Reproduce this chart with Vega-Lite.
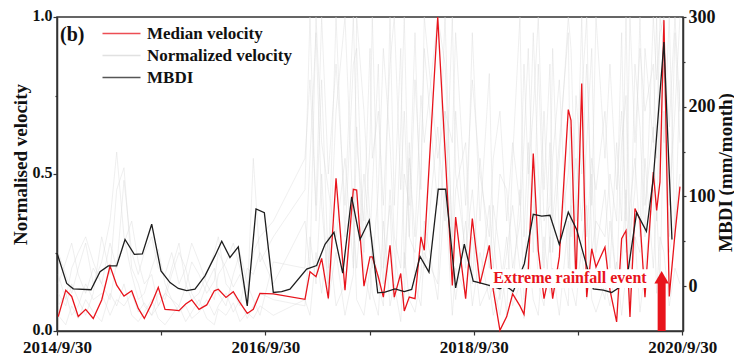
{
"$schema": "https://vega.github.io/schema/vega-lite/v6.json",
"width": 626, "height": 314,
"autosize": {"type": "none"},
"padding": {"left": 57, "top": 17, "right": 51, "bottom": 25},
"background": "white",
"config": {
  "view": {"stroke": "#333", "strokeWidth": 1.5},
  "axis": {"domainColor": "#333", "domainWidth": 1.5, "tickColor": "#333", "tickWidth": 1.2, "grid": false,
    "labelFont": "Liberation Serif", "labelFontWeight": "bold", "labelColor": "#111",
    "titleFont": "Liberation Serif", "titleFontWeight": "bold", "titleColor": "#111"}
},
"datasets": {
"vel": [
{"t":2014.760,"m":0.046,"g1":0.25,"g2":0.12,"g3":0.05,"g4":0.15,"g5":0.08,"g6":0.18},
{"t":2014.832,"m":0.13,"g1":0.18,"g2":0.08,"g3":0.02,"g4":0.22,"g5":0.12,"g6":0.10},
{"t":2014.889,"m":0.11,"g1":0.12,"g2":0.15,"g3":0.08,"g4":0.28,"g5":0.05,"g6":0.20},
{"t":2014.952,"m":0.046,"g1":0.20,"g2":0.10,"g3":0.04,"g4":0.18,"g5":0.08,"g6":0.25},
{"t":2015.023,"m":0.069,"g1":0.28,"g2":0.05,"g3":0.10,"g4":0.12,"g5":0.15,"g6":0.30},
{"t":2015.096,"m":0.04,"g1":0.15,"g2":0.12,"g3":0.06,"g4":0.20,"g5":0.10,"g6":0.22},
{"t":2015.177,"m":0.099,"g1":0.22,"g2":0.30,"g3":0.03,"g4":0.15,"g5":0.12,"g6":0.15},
{"t":2015.257,"m":0.207,"g1":0.35,"g2":0.18,"g3":0.12,"g4":0.10,"g5":0.05,"g6":0.28},
{"t":2015.321,"m":0.146,"g1":0.57,"g2":0.45,"g3":0.08,"g4":0.22,"g5":0.10,"g6":0.20},
{"t":2015.391,"m":0.111,"g1":0.30,"g2":0.52,"g3":0.15,"g4":0.28,"g5":0.08,"g6":0.48},
{"t":2015.465,"m":0.128,"g1":0.18,"g2":0.20,"g3":0.05,"g4":0.35,"g5":0.12,"g6":0.25},
{"t":2015.528,"m":0.072,"g1":0.10,"g2":0.15,"g3":0.03,"g4":0.22,"g5":0.06,"g6":0.18},
{"t":2015.586,"m":0.04,"g1":0.12,"g2":0.08,"g3":0.06,"g4":0.15,"g5":0.09,"g6":0.25},
{"t":2015.657,"m":0.088,"g1":0.20,"g2":0.05,"g3":0.10,"g4":0.18,"g5":0.05,"g6":0.30},
{"t":2015.720,"m":0.139,"g1":0.26,"g2":0.12,"g3":0.04,"g4":0.08,"g5":0.08,"g6":0.20},
{"t":2015.785,"m":0.069,"g1":0.15,"g2":0.10,"g3":0.02,"g4":0.12,"g5":0.12,"g6":0.18},
{"t":2015.849,"m":0.067,"g1":0.10,"g2":0.18,"g3":0.05,"g4":0.20,"g5":0.10,"g6":0.25},
{"t":2015.919,"m":0.065,"g1":0.08,"g2":0.25,"g3":0.08,"g4":0.28,"g5":0.06,"g6":0.15},
{"t":2015.983,"m":0.086,"g1":0.14,"g2":0.20,"g3":0.03,"g4":0.15,"g5":0.08,"g6":0.20},
{"t":2016.041,"m":0.099,"g1":0.22,"g2":0.12,"g3":0.06,"g4":0.10,"g5":0.04,"g6":0.28},
{"t":2016.111,"m":0.069,"g1":0.18,"g2":0.08,"g3":0.10,"g4":0.12,"g5":0.06,"g6":0.22},
{"t":2016.185,"m":0.083,"g1":0.12,"g2":0.15,"g3":0.04,"g4":0.18,"g5":0.10,"g6":0.15},
{"t":2016.258,"m":0.128,"g1":0.16,"g2":0.20,"g3":0.02,"g4":0.25,"g5":0.05,"g6":0.10},
{"t":2016.296,"m":0.133,"g1":0.25,"g2":0.12,"g3":0.07,"g4":0.30,"g5":0.08,"g6":0.18},
{"t":2016.370,"m":0.107,"g1":0.20,"g2":0.08,"g3":0.05,"g4":0.15,"g5":0.12,"g6":0.22},
{"t":2016.440,"m":0.125,"g1":0.14,"g2":0.18,"g3":0.09,"g4":0.12,"g5":0.06,"g6":0.28},
{"t":2016.504,"m":0.09,"g1":0.18,"g2":0.25,"g3":0.03,"g4":0.08,"g5":0.10,"g6":0.20},
{"t":2016.574,"m":0.056,"g1":0.10,"g2":0.15,"g3":0.06,"g4":0.20,"g5":0.04,"g6":0.12},
{"t":2016.632,"m":0.069,"g1":0.55,"g2":0.10,"g3":0.04,"g4":0.18,"g5":0.08,"g6":0.25},
{"t":2016.696,"m":0.12,"g1":0.22,"g2":0.05,"g3":0.08,"g4":0.25,"g5":0.12,"g6":0.30},
{"t":2016.824,"m":0.118,"g1":0.30,"g2":0.22,"g3":0.05,"g4":0.15,"g5":0.10,"g6":0.35},
{"t":2017.128,"m":0.101,"g1":0.45,"g2":0.20,"g3":0.10,"g4":0.35,"g5":0.08,"g6":0.55},
{"t":2017.176,"m":0.189,"g1":1.0,"g2":0.55,"g3":0.05,"g4":0.20,"g5":0.30,"g6":0.80},
{"t":2017.234,"m":0.173,"g1":0.35,"g2":0.95,"g3":0.25,"g4":1.0,"g5":0.15,"g6":0.40},
{"t":2017.288,"m":0.231,"g1":0.80,"g2":0.40,"g3":0.12,"g4":0.60,"g5":0.50,"g6":1.0},
{"t":2017.352,"m":0.104,"g1":0.20,"g2":0.15,"g3":0.30,"g4":0.45,"g5":0.10,"g6":0.50},
{"t":2017.426,"m":0.486,"g1":1.0,"g2":0.70,"g3":0.08,"g4":0.30,"g5":0.25,"g6":0.85},
{"t":2017.512,"m":0.13,"g1":0.30,"g2":1.0,"g3":0.15,"g4":0.55,"g5":0.05,"g6":0.40},
{"t":2017.592,"m":0.451,"g1":0.85,"g2":0.35,"g3":0.40,"g4":0.20,"g5":0.18,"g6":1.0},
{"t":2017.624,"m":0.449,"g1":0.90,"g2":0.20,"g3":0.10,"g4":1.0,"g5":0.65,"g6":0.60},
{"t":2017.694,"m":0.143,"g1":0.25,"g2":0.50,"g3":0.05,"g4":0.70,"g5":0.20,"g6":0.35},
{"t":2017.752,"m":0.236,"g1":0.60,"g2":0.30,"g3":0.20,"g4":0.35,"g5":0.10,"g6":0.90},
{"t":2017.774,"m":0.236,"g1":1.0,"g2":0.45,"g3":0.12,"g4":0.20,"g5":0.30,"g6":0.55},
{"t":2017.832,"m":0.172,"g1":0.30,"g2":0.85,"g3":0.05,"g4":0.45,"g5":0.15,"g6":0.70},
{"t":2017.880,"m":0.108,"g1":0.15,"g2":0.20,"g3":0.35,"g4":0.90,"g5":0.08,"g6":0.40},
{"t":2017.944,"m":0.273,"g1":1.0,"g2":0.40,"g3":0.08,"g4":0.60,"g5":0.45,"g6":0.85},
{"t":2017.985,"m":0.108,"g1":0.40,"g2":0.10,"g3":0.15,"g4":0.30,"g5":0.25,"g6":1.0},
{"t":2018.047,"m":0.183,"g1":0.90,"g2":0.65,"g3":0.03,"g4":0.20,"g5":0.12,"g6":0.45},
{"t":2018.081,"m":0.064,"g1":0.20,"g2":1.0,"g3":0.25,"g4":0.50,"g5":0.10,"g6":0.70},
{"t":2018.129,"m":0.108,"g1":0.55,"g2":0.30,"g3":0.10,"g4":0.40,"g5":0.60,"g6":0.30},
{"t":2018.184,"m":0.103,"g1":0.30,"g2":0.25,"g3":0.06,"g4":0.95,"g5":0.15,"g6":0.80},
{"t":2018.241,"m":0.3,"g1":0.75,"g2":0.50,"g3":0.18,"g4":0.30,"g5":0.08,"g6":0.45},
{"t":2018.273,"m":0.257,"g1":0.60,"g2":0.90,"g3":0.35,"g4":0.20,"g5":0.25,"g6":1.0},
{"t":2018.402,"m":1.0,"g1":1.0,"g2":0.40,"g3":0.10,"g4":0.65,"g5":0.15,"g6":0.55},
{"t":2018.472,"m":0.575,"g1":0.85,"g2":1.0,"g3":0.45,"g4":0.35,"g5":0.70,"g6":0.70},
{"t":2018.542,"m":0.145,"g1":0.30,"g2":0.25,"g3":0.05,"g4":1.0,"g5":0.20,"g6":0.60},
{"t":2018.574,"m":0.363,"g1":0.70,"g2":0.45,"g3":0.20,"g4":0.50,"g5":0.10,"g6":0.95},
{"t":2018.670,"m":0.103,"g1":0.20,"g2":0.60,"g3":0.12,"g4":0.25,"g5":0.35,"g6":0.40},
{"t":2018.734,"m":0.358,"g1":0.95,"g2":0.15,"g3":0.30,"g4":0.45,"g5":0.08,"g6":0.80},
{"t":2018.808,"m":0.151,"g1":0.35,"g2":0.55,"g3":0.08,"g4":0.15,"g5":0.25,"g6":0.50},
{"t":2018.897,"m":0.273,"g1":0.82,"g2":0.20,"g3":0.15,"g4":0.40,"g5":0.10,"g6":0.30},
{"t":2018.935,"m":0.13,"g1":0.30,"g2":0.40,"g3":0.05,"g4":0.20,"g5":0.15,"g6":0.55},
{"t":2018.999,"m":0.002,"g1":0.10,"g2":0.25,"g3":0.12,"g4":0.50,"g5":0.05,"g6":0.70},
{"t":2019.064,"m":0.046,"g1":0.25,"g2":0.05,"g3":0.30,"g4":0.45,"g5":0.20,"g6":0.35},
{"t":2019.121,"m":0.118,"g1":0.40,"g2":0.55,"g3":0.08,"g4":0.20,"g5":0.12,"g6":0.60},
{"t":2019.191,"m":0.08,"g1":0.20,"g2":1.0,"g3":0.15,"g4":0.35,"g5":0.45,"g6":0.40},
{"t":2019.230,"m":0.053,"g1":0.15,"g2":0.30,"g3":0.04,"g4":0.60,"g5":0.10,"g6":0.85},
{"t":2019.271,"m":0.193,"g1":0.45,"g2":0.60,"g3":0.25,"g4":0.90,"g5":0.18,"g6":0.50},
{"t":2019.319,"m":0.565,"g1":0.95,"g2":0.25,"g3":0.10,"g4":0.40,"g5":0.55,"g6":0.70},
{"t":2019.367,"m":0.257,"g1":0.50,"g2":0.85,"g3":0.05,"g4":0.25,"g5":0.15,"g6":1.0},
{"t":2019.422,"m":0.103,"g1":0.20,"g2":0.35,"g3":0.30,"g4":0.70,"g5":0.08,"g6":0.45},
{"t":2019.479,"m":0.193,"g1":0.60,"g2":0.40,"g3":0.12,"g4":0.25,"g5":0.30,"g6":0.85},
{"t":2019.505,"m":0.103,"g1":0.25,"g2":0.90,"g3":0.20,"g4":0.55,"g5":0.12,"g6":0.35},
{"t":2019.569,"m":0.236,"g1":0.55,"g2":0.30,"g3":0.05,"g4":0.80,"g5":0.20,"g6":0.60},
{"t":2019.655,"m":0.705,"g1":1.0,"g2":0.50,"g3":0.35,"g4":0.20,"g5":0.08,"g6":0.95},
{"t":2019.681,"m":0.671,"g1":0.90,"g2":0.65,"g3":0.15,"g4":0.40,"g5":0.40,"g6":0.30},
{"t":2019.729,"m":0.151,"g1":0.35,"g2":0.20,"g3":0.08,"g4":0.55,"g5":0.15,"g6":0.75},
{"t":2019.784,"m":0.788,"g1":1.0,"g2":0.75,"g3":0.28,"g4":0.35,"g5":0.25,"g6":0.50},
{"t":2019.832,"m":0.108,"g1":0.30,"g2":1.0,"g3":0.40,"g4":0.60,"g5":0.10,"g6":0.85},
{"t":2019.880,"m":0.262,"g1":0.55,"g2":0.25,"g3":0.10,"g4":0.90,"g5":0.50,"g6":0.40},
{"t":2019.921,"m":0.204,"g1":0.45,"g2":0.35,"g3":0.06,"g4":0.25,"g5":0.20,"g6":1.0},
{"t":2020.007,"m":0.267,"g1":0.70,"g2":0.30,"g3":0.15,"g4":0.45,"g5":0.10,"g6":0.55},
{"t":2020.055,"m":0.13,"g1":0.40,"g2":0.50,"g3":0.08,"g4":0.20,"g5":0.35,"g6":0.85},
{"t":2020.119,"m":0.029,"g1":0.15,"g2":0.35,"g3":0.22,"g4":0.60,"g5":0.15,"g6":0.45},
{"t":2020.167,"m":0.294,"g1":0.60,"g2":0.95,"g3":0.05,"g4":0.35,"g5":0.20,"g6":0.70},
{"t":2020.209,"m":0.32,"g1":0.75,"g2":0.25,"g3":0.18,"g4":1.0,"g5":0.45,"g6":0.35},
{"t":2020.247,"m":0.045,"g1":0.20,"g2":0.40,"g3":0.10,"g4":0.30,"g5":0.10,"g6":1.0},
{"t":2020.295,"m":0.39,"g1":0.85,"g2":0.55,"g3":0.30,"g4":0.45,"g5":0.30,"g6":0.60},
{"t":2020.343,"m":0.354,"g1":0.65,"g2":0.30,"g3":0.06,"g4":1.0,"g5":0.25,"g6":0.90},
{"t":2020.391,"m":0.108,"g1":0.30,"g2":0.90,"g3":0.20,"g4":0.40,"g5":0.55,"g6":0.70},
{"t":2020.471,"m":0.506,"g1":1.0,"g2":0.60,"g3":0.45,"g4":0.65,"g5":0.20,"g6":0.85},
{"t":2020.503,"m":0.384,"g1":0.80,"g2":1.0,"g3":0.12,"g4":0.35,"g5":0.40,"g6":0.55},
{"t":2020.535,"m":0.475,"g1":0.95,"g2":0.50,"g3":0.30,"g4":0.75,"g5":0.15,"g6":1.0},
{"t":2020.573,"m":0.99,"g1":1.0,"g2":0.85,"g3":0.25,"g4":0.60,"g5":0.70,"g6":0.90},
{"t":2020.624,"m":0.11,"g1":0.40,"g2":0.30,"g3":0.08,"g4":1.0,"g5":0.25,"g6":0.65},
{"t":2020.679,"m":0.31,"g1":0.70,"g2":0.95,"g3":0.20,"g4":0.30,"g5":0.35,"g6":1.0},
{"t":2020.727,"m":0.46,"g1":1.0,"g2":0.60,"g3":0.15,"g4":0.80,"g5":0.50,"g6":0.70}
],
"mbdi": [
{"t":2014.748,"b":37},{"t":2014.841,"b":3},{"t":2014.904,"b":-3},{"t":2015.074,"b":-4},
{"t":2015.161,"b":16},{"t":2015.240,"b":22.6},{"t":2015.321,"b":22.6},{"t":2015.401,"b":52},
{"t":2015.490,"b":35.5},{"t":2015.567,"b":36},{"t":2015.657,"b":69},{"t":2015.746,"b":17},
{"t":2015.833,"b":4},{"t":2015.912,"b":-2.6},{"t":2015.993,"b":-5},{"t":2016.072,"b":-3.3},
{"t":2016.168,"b":11.5},{"t":2016.264,"b":33.7},{"t":2016.329,"b":50},{"t":2016.408,"b":32},
{"t":2016.488,"b":43.7},{"t":2016.574,"b":-22},{"t":2016.658,"b":86},{"t":2016.738,"b":82},
{"t":2016.824,"b":-7},{"t":2016.904,"b":-6},{"t":2016.984,"b":-3.3},{"t":2017.144,"b":19},
{"t":2017.240,"b":23},{"t":2017.320,"b":46.7},{"t":2017.406,"b":60},{"t":2017.490,"b":14.4},
{"t":2017.576,"b":99.6},{"t":2017.656,"b":52},{"t":2017.745,"b":73.5},{"t":2017.826,"b":-7.4},
{"t":2017.896,"b":-6.7},{"t":2017.992,"b":-3},{"t":2018.081,"b":-6},{"t":2018.152,"b":-3.7},
{"t":2018.232,"b":33},{"t":2018.318,"b":15.6},{"t":2018.407,"b":108},{"t":2018.478,"b":108},
{"t":2018.574,"b":-2},{"t":2018.657,"b":46.7},{"t":2018.743,"b":5.5},{"t":2018.808,"b":3.7},
{"t":2018.904,"b":0.7},{"t":2018.999,"b":-3},{"t":2019.047,"b":1},{"t":2019.127,"b":-6},
{"t":2019.233,"b":25},{"t":2019.319,"b":80},{"t":2019.400,"b":78},{"t":2019.479,"b":79},
{"t":2019.569,"b":46.5},{"t":2019.655,"b":82.5},{"t":2019.736,"b":63},{"t":2019.832,"b":22.6},
{"t":2019.895,"b":-3},{"t":2019.991,"b":-4.5},{"t":2020.071,"b":-7},{"t":2020.151,"b":-1},
{"t":2020.231,"b":19},{"t":2020.311,"b":82},{"t":2020.405,"b":61},{"t":2020.471,"b":120},
{"t":2020.573,"b":272},{"t":2020.650,"b":52}
]
},
"layer": [
 {
  "layer": [
   {
    "data": {"name": "vel"},
    "transform": [{"fold": ["g1","g2","g3","g4","g5","g6"], "as": ["s","v"]}],
    "mark": {"type": "line", "strokeWidth": 0.55, "opacity": 0.75},
    "encoding": {
      "x": {"field": "t", "type": "quantitative", "title": null,
        "scale": {"domain": [2014.748, 2020.756], "nice": false, "zero": false},
        "axis": {"values": [2014.748,2015.748,2016.748,2017.748,2018.748,2019.748,2020.748],
          "labelExpr": "floor(datum.value) % 2 == 0 ? floor(datum.value) + '/9/30' : ''",
          "labelFontSize": 17, "labelFlush": false, "labelOverlap": false, "labelBound": false,
          "labelDx": 5, "labelPadding": 4, "tickSize": 4, "title": null}},
      "y": {"field": "v", "type": "quantitative", "title": "Normalised velocity",
        "scale": {"domain": [0, 1], "nice": false, "zero": false},
        "axis": {"values": [0, 0.25, 0.5, 0.75, 1],
          "labelExpr": "datum.value == 0.25 || datum.value == 0.75 ? '' : format(datum.value, '.1f')",
          "tickSize": {"condition": {"test": "datum.value == 0.25 || datum.value == 0.75", "value": 2}, "value": 4},
          "labelFontSize": 16, "labelPadding": 1, "labelOverlap": false, "labelOffset": -2,
          "titleFontSize": 19, "titleX": -37, "titleY": 147, "titleBaseline": "middle", "titleAngle": 270}},
      "detail": {"field": "s", "type": "nominal"},
      "color": {"datum": "Normalized velocity", "type": "nominal",
        "scale": {"domain": ["Median velocity", "Normalized velocity", "MBDI"], "range": ["#e8141c", "#d8d8d8", "#1e1e1e"]},
        "legend": {"title": null, "orient": "none", "legendX": 54, "legendY": 6,
          "symbolType": "M-2,0L2,0", "symbolSize": 361, "symbolStrokeWidth": 1.5,
          "labelFont": "Liberation Serif", "labelFontWeight": "bold", "labelFontSize": 17, "labelColor": "#111",
          "labelOffset": 15, "rowPadding": 3, "padding": 0}}
    }
   },
   {
    "data": {"name": "vel"},
    "mark": {"type": "line", "strokeWidth": 1.3},
    "encoding": {
      "x": {"field": "t", "type": "quantitative", "title": null},
      "y": {"field": "m", "type": "quantitative", "title": "Normalised velocity"},
      "color": {"datum": "Median velocity", "type": "nominal"}
    }
   }
  ]
 },
 {
  "layer": [
   {
    "data": {"name": "mbdi"},
    "mark": {"type": "line", "strokeWidth": 1.3},
    "encoding": {
      "x": {"field": "t", "type": "quantitative", "title": null},
      "y": {"field": "b", "type": "quantitative", "title": "MBDI (mm/month)",
        "scale": {"domain": [-50, 300], "nice": false, "zero": false},
        "axis": {"orient": "right", "values": [0, 50, 100, 150, 200, 250, 300],
          "labelExpr": "datum.value % 100 == 0 ? datum.label : ''",
          "tickSize": {"condition": {"test": "datum.value % 100 != 0", "value": 2}, "value": 3},
          "labelFontSize": 18, "labelPadding": 2, "labelOverlap": false,
          "titleFontSize": 19, "titleX": 42, "titleY": 155, "titleBaseline": "middle", "titleAngle": 270}},
      "color": {"datum": "MBDI", "type": "nominal"}
    }
   },
   {
    "data": {"values": [{}]},
    "mark": {"type": "rect", "fill": "white"},
    "encoding": {
      "x": {"datum": 2018.903, "type": "quantitative", "title": null},
      "x2": {"datum": 2020.439},
      "y": {"datum": -2.2, "type": "quantitative", "title": "MBDI (mm/month)"},
      "y2": {"datum": 18.9}
    }
   },
   {
    "data": {"values": [{"label": "Extreme rainfall event"}]},
    "mark": {"type": "text", "color": "#e8141c", "font": "Liberation Serif", "fontWeight": "bold", "fontSize": 16, "align": "center", "baseline": "middle"},
    "encoding": {
      "x": {"datum": 2019.671, "type": "quantitative", "title": null},
      "y": {"datum": 9.4, "type": "quantitative", "title": "MBDI (mm/month)"},
      "text": {"field": "label"}
    }
   },
   {
    "data": {"values": [{}]},
    "mark": {"type": "rule", "color": "#e8141c", "strokeWidth": 8, "strokeCap": "butt"},
    "encoding": {
      "x": {"datum": 2020.551, "type": "quantitative", "title": null},
      "y": {"datum": -50, "type": "quantitative", "title": "MBDI (mm/month)"},
      "y2": {"datum": 8}
    }
   },
   {
    "data": {"values": [{}]},
    "mark": {"type": "point", "shape": "triangle-up", "filled": true, "color": "#e8141c", "size": 210, "opacity": 1},
    "encoding": {
      "x": {"datum": 2020.551, "type": "quantitative", "title": null},
      "y": {"datum": 10, "type": "quantitative", "title": "MBDI (mm/month)"}
    }
   },
   {
    "data": {"values": [{"label": "(b)"}]},
    "mark": {"type": "text", "color": "#111", "font": "Liberation Serif", "fontWeight": "bold", "fontSize": 20, "align": "left", "baseline": "middle"},
    "encoding": {
      "x": {"datum": 2014.777, "type": "quantitative", "title": null},
      "y": {"datum": 280, "type": "quantitative", "title": "MBDI (mm/month)"},
      "text": {"field": "label"}
    }
   }
  ]
 }
],
"resolve": {"scale": {"y": "independent"}}
}
